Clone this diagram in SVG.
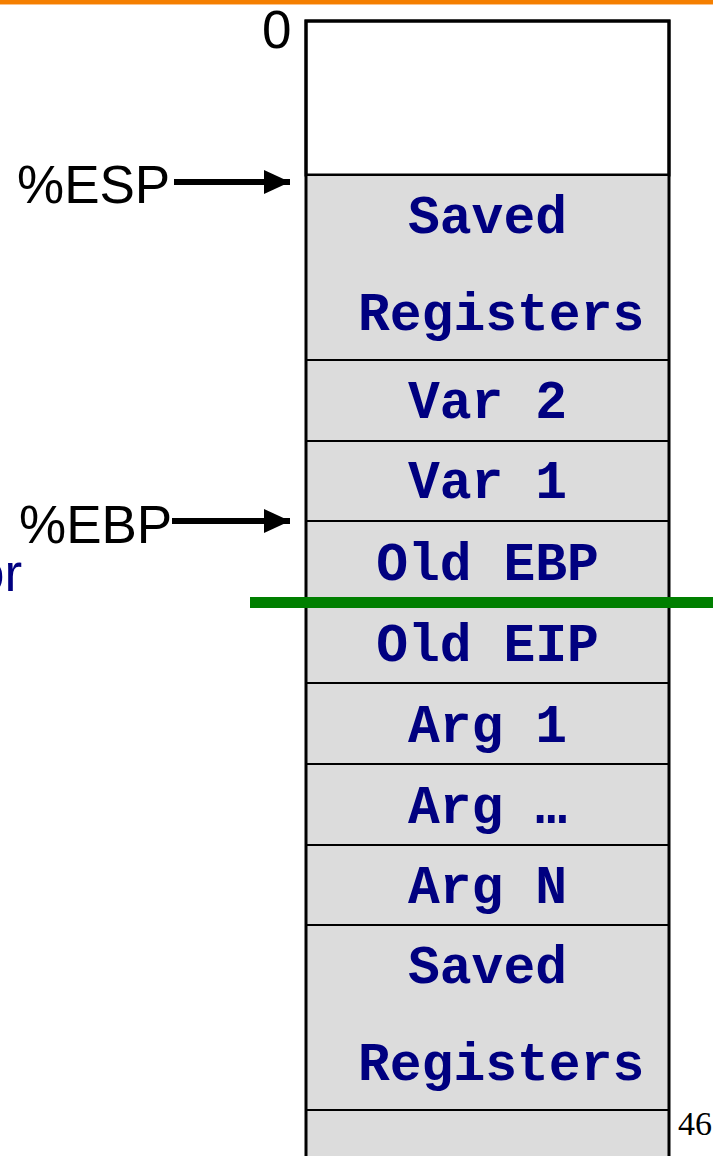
<svg xmlns="http://www.w3.org/2000/svg" width="713" height="1156" viewBox="0 0 713 1156">
<defs>
<style>
.cell{fill:#dcdcdc;stroke:#000;stroke-width:2}
.lbl{font-family:"Liberation Mono","Courier New",monospace;font-weight:bold;font-size:53px;fill:#000080}
.reg{font-family:"Liberation Sans",Arial,sans-serif;font-size:53px;fill:#000}
.ptr{stroke:#000;stroke-width:6;fill:none}
</style>
<marker id="ah" markerUnits="userSpaceOnUse" markerWidth="26" markerHeight="26" refX="26" refY="12" orient="auto">
<path d="M0,0 L26,12 L0,24 Z" fill="#000"/>
</marker>
</defs>
<rect x="0" y="0" width="713" height="1156" fill="#fff"/>
<rect x="0" y="0" width="713" height="4" fill="#f57f00"/>
<rect x="0" y="4" width="713" height="1" fill="#fbc28a"/>
<text x="-25" y="591" font-family="Liberation Sans,Arial,sans-serif" font-size="53" fill="#000080">or</text>
<g id="stack">
<rect x="306" y="21" width="363" height="154" fill="#fff" stroke="#000" stroke-width="3"/>
<g id="n-saved1"><rect class="cell" x="306" y="175" width="363" height="185"/><text class="lbl" x="408" y="233">Saved</text><text class="lbl" x="358" y="330">Registers</text></g>
<g id="n-var2"><rect class="cell" x="306" y="360" width="363" height="81"/><text class="lbl" x="487.5" y="418" text-anchor="middle">Var 2</text></g>
<g id="n-var1"><rect class="cell" x="306" y="441" width="363" height="80"/><text class="lbl" x="487.5" y="498" text-anchor="middle">Var 1</text></g>
<g id="n-oldebp"><rect class="cell" x="306" y="521" width="363" height="81"/><text class="lbl" x="487.5" y="580" text-anchor="middle">Old EBP</text></g>
<g id="n-oldeip"><rect class="cell" x="306" y="602" width="363" height="81"/><text class="lbl" x="487.5" y="661" text-anchor="middle">Old EIP</text></g>
<g id="n-arg1"><rect class="cell" x="306" y="683" width="363" height="81"/><text class="lbl" x="487.5" y="742" text-anchor="middle">Arg 1</text></g>
<g id="n-argdots"><rect class="cell" x="306" y="764" width="363" height="81"/><text class="lbl" x="487.5" y="823" text-anchor="middle">Arg …</text></g>
<g id="n-argn"><rect class="cell" x="306" y="845" width="363" height="80"/><text class="lbl" x="487.5" y="903" text-anchor="middle">Arg N</text></g>
<g id="n-saved2"><rect class="cell" x="306" y="925" width="363" height="185"/><text class="lbl" x="408" y="983">Saved</text><text class="lbl" x="358" y="1080">Registers</text></g>
<g id="n-bottom"><rect class="cell" x="306" y="1110" width="363" height="60"/></g>
<path d="M306,175 V21 H669 V1160 M306,175 V1160" fill="none" stroke="#000" stroke-width="3"/>
</g>
<g id="n-zero"><text class="reg" x="262" y="48">0</text></g>
<g id="n-esp"><text class="reg" x="17" y="203">%ESP</text></g>
<g id="n-ebp"><text class="reg" x="19" y="543">%EBP</text></g>
<g id="connectors">
<line class="ptr" x1="174" y1="182" x2="290" y2="182" marker-end="url(#ah)"/>
<line class="ptr" x1="172" y1="521" x2="290" y2="521" marker-end="url(#ah)"/>
</g>
<rect id="divider" x="250" y="597" width="463" height="11" fill="#007f00"/>
<text x="678" y="1135" font-family="Liberation Serif,serif" font-size="34" fill="#000">46</text>
</svg>
